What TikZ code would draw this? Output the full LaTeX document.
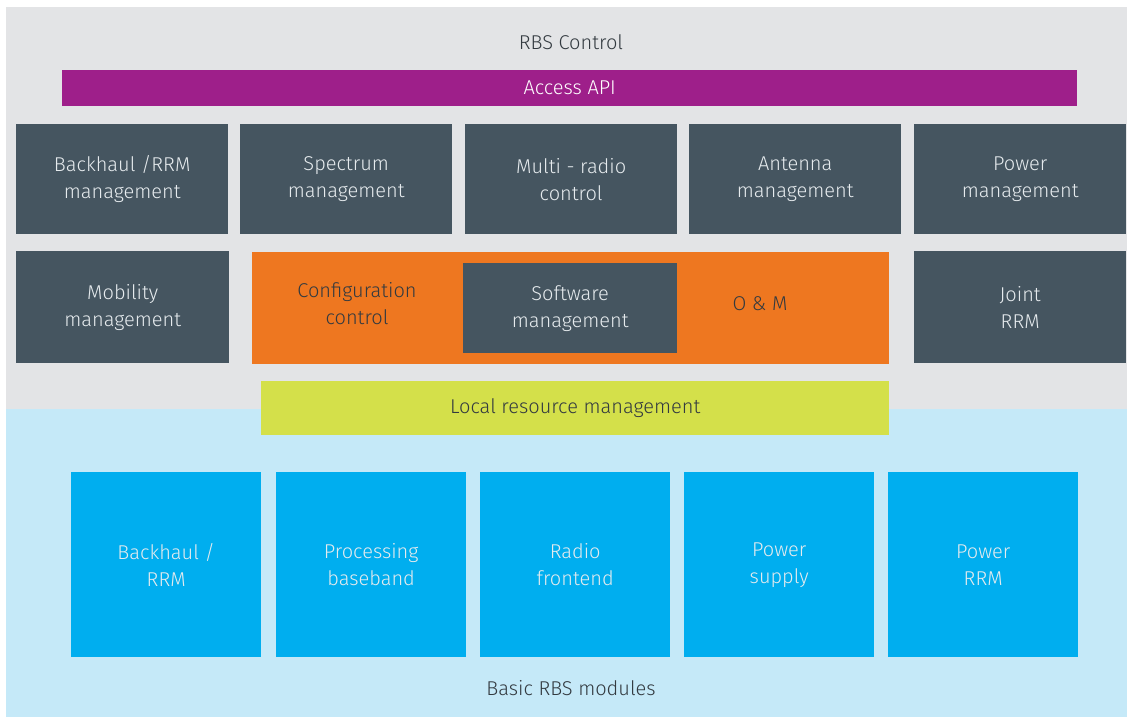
\documentclass[tikz,border=0pt]{standalone}
\usepackage{fontspec}
\setmainfont{Fira Sans Light}
\definecolor{panelgrey}{HTML}{E3E4E6}
\definecolor{panelblue}{HTML}{C5E9F8}
\definecolor{apipurple}{HTML}{9E1F8A}
\definecolor{slate}{HTML}{455560}
\definecolor{omorange}{HTML}{EE7720}
\definecolor{lime}{HTML}{D4E04A}
\definecolor{modblue}{HTML}{00AEEF}
\definecolor{darktext}{HTML}{333A40}
\definecolor{lighttext}{HTML}{E6EBEE}
\tikzset{
  x=1pt, y=-1pt,
  every node/.style={font=\fontsize{20}{27}\selectfont, align=center, inner sep=0pt},
  blk/.style={anchor=north west, minimum width=#1},
  ctl/.style={blk=212, minimum height=110, fill=slate, text=lighttext},
  mods/.style={blk=190, minimum height=185, fill=modblue, text=lighttext},
  caption/.style={text=darktext}
}
\begin{document}
\begin{tikzpicture}
\useasboundingbox (0,0) rectangle (1127,717);
\fill[white] (0,0) rectangle (1127,717);
% control and module areas
\fill[panelgrey] (6,7) rectangle (1127,409);
\fill[panelblue] (6,409) rectangle (1127,717);
\node[caption] (rbsctl) at (571,42) {RBS Control};
\node[caption] (basic) at (571,688) {Basic RBS modules};
% access API bar
\node[blk=1015, minimum height=36, fill=apipurple, text=white] (api) at (62,70) {Access API};
% first row of control functions
\node[ctl] (bh) at (16,124) {Backhaul /RRM\\management};
\node[ctl] (spec) at (240,124) {Spectrum\\management};
\node[ctl] (mr) at (465,124) {Multi - radio\\control};
\node[ctl] (ant) at (689,124) {Antenna\\management};
\node[ctl] (pwr) at (914,124) {Power\\management};
% second row
\node[ctl, minimum height=112, minimum width=213] (mob) at (16,251) {Mobility\\management};
\node[blk=637, minimum height=112, fill=omorange] (om) at (252,252) {};
\node[text=darktext] (cfg) at (357,304) {Configuration\\control};
\node[blk=214, minimum height=90, fill=slate, text=lighttext] (sw) at (463,263) {Software\\management};
\node[text=darktext] (omlbl) at (760,304) {O \& M};
\node[ctl, minimum height=112] (jrrm) at (914,251) {Joint\\RRM};
% local resource management
\node[blk=628, minimum height=54, fill=lime, text=darktext] (lrm) at (261,381) {Local resource management};
% basic modules
\node[mods] (mbh) at (71,472) {Backhaul /\\RRM};
\node[mods] (mpb) at (276,472) {Processing\\baseband};
\node[mods] (mrf) at (480,472) {Radio\\frontend};
\node[mods] (mps) at (684,472) {Power\\supply};
\node[mods] (mpr) at (888,472) {Power\\RRM};
\end{tikzpicture}
\end{document}
